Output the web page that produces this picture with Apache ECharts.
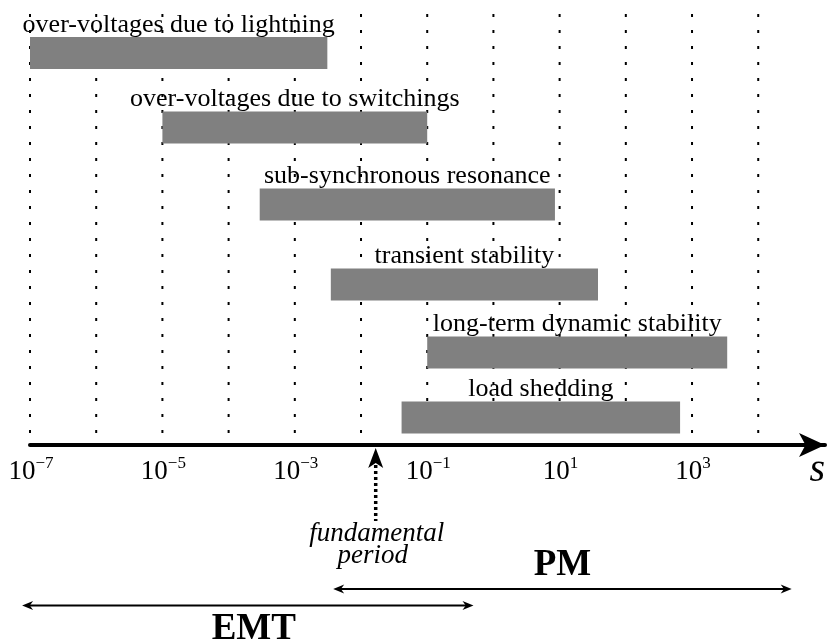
<!DOCTYPE html>
<html>
<head>
<meta charset="utf-8">
<script src="https://cdn.jsdelivr.net/npm/echarts@6/dist/echarts.min.js"></script>
<style>
html,body{margin:0;padding:0;background:#fff;}
#chart{width:828px;height:644px;}
</style>
</head>
<body>
<div id="chart"></div>
<script>
// ---- data ----
const categories = [
  'over-voltages due to lightning',
  'over-voltages due to switchings',
  'sub-synchronous resonance',
  'transient stability',
  'long-term dynamic stability',
  'load shedding'
];
const startSec = [1e-7, 1e-5, 2.95e-4, 3.5e-3, 0.1, 0.041];
const endSec   = [3.1e-3, 0.1, 8.5, 38, 3400, 660];
const rowLevel = [0.96, 2.45, 3.99, 5.59, 6.95, 8.25];

const decades = [1e-7, 1e-6, 1e-5, 1e-4, 1e-3, 1e-2, 1e-1, 1, 10, 100, 1000, 10000];
const tickExponents = [-7, -5, -3, -1, 1, 3];
const xMin = 1e-7;
const xMax = 1.02e5;

const fundamentalPeriod = [1 / 60];
const fundamentalLabel = ['fundamental', 'period'];

const regionNames = ['EMT', 'PM'];
const regionStart = [7.6e-8, 3.8e-3];
const regionEnd   = [0.5, 3.2e4];

// ---- chart ----
const chart = echarts.init(document.getElementById('chart'), null, {renderer: 'canvas'});
const SERIF = '"Liberation Serif", "Times New Roman", serif';

const barData = categories.map((c, i) => [startSec[i], endSec[i], rowLevel[i], i]);

function arrowHead(tipX, tipY, dir, len, half) {
  return {
    type: 'polygon',
    shape: {points: [[tipX, tipY], [tipX - dir * len, tipY - half], [tipX - dir * len * 0.7, tipY], [tipX - dir * len, tipY + half]]},
    style: {fill: '#000'}
  };
}

const option = {
  animation: false,
  backgroundColor: '#fff',
  grid: {left: 30, right: 0, top: 5, bottom: 199, containLabel: false},
  xAxis: {
    type: 'log',
    logBase: 10,
    position: 'bottom',
    min: xMin,
    max: xMax,
    axisLine: {show: true, onZero: false, symbol: ['none', 'arrow'], symbolSize: [18, 26],
      lineStyle: {color: '#000', width: 4}},
    axisTick: {show: false},
    splitLine: {show: false},
    minorTick: {show: false},
    axisLabel: {show: false},
    name: 's',
    nameLocation: 'end',
    nameGap: 0,
    nameTextStyle: {fontFamily: SERIF, fontStyle: 'italic', fontSize: 40, color: '#000',
      align: 'right', verticalAlign: 'top', padding: [5, 0, 0, 0]}
  },
  yAxis: {type: 'value', inverse: true, min: 0, max: 8.8, show: false},
  series: [
    {
      // decade grid lines
      type: 'custom',
      z: 1,
      data: decades.map(d => [d]),
      encode: {x: 0},
      renderItem: function (params, api) {
        const cs = params.coordSys;
        const p = api.coord([api.value(0), 0]);
        return {
          type: 'line',
          shape: {x1: p[0], y1: cs.y + 9, x2: p[0], y2: cs.y + cs.height - 2},
          style: {stroke: '#000', lineWidth: 2, lineDash: [3, 13]}
        };
      }
    },
    {
      // tick labels 10^e
      type: 'custom',
      z: 3,
      clip: false,
      data: tickExponents.map(e => [Math.pow(10, e), e]),
      encode: {x: 0},
      renderItem: function (params, api) {
        const cs = params.coordSys;
        const p = api.coord([api.value(0), 0]);
        const e = api.value(1);
        return {
          type: 'text',
          style: {
            text: '{a|10}{b|' + (e < 0 ? '\u2212' : '') + Math.abs(e) + '}',
            x: p[0] + 1, y: cs.y + cs.height + 10,
            align: 'center', verticalAlign: 'top',
            rich: {
              a: {fontFamily: SERIF, fontSize: 27, fill: '#000', lineHeight: 30, verticalAlign: 'bottom'},
              b: {fontFamily: SERIF, fontSize: 17, fill: '#000', lineHeight: 18, verticalAlign: 'top'}
            }
          }
        };
      }
    },
    {
      type: 'custom',
      z: 2,
      data: barData,
      encode: {x: [0, 1], y: 2},
      renderItem: function (params, api) {
        const a = api.coord([api.value(0), api.value(2)]);
        const b = api.coord([api.value(1), api.value(2)]);
        const h = 32;
        const idx = api.value(3);
        return {
          type: 'group',
          children: [
            {type: 'text', z2: 1, style: {text: categories[idx], x: (a[0] + b[0]) / 2, y: a[1] - h / 2 + 1,
              align: 'center', verticalAlign: 'bottom', font: '26px ' + SERIF, fill: '#000'}},
            {type: 'rect', z2: 3, shape: {x: a[0], y: a[1] - h / 2, width: b[0] - a[0], height: h},
              style: {fill: '#808080'}}
          ]
        };
      }
    },
    {
      type: 'custom',
      z: 3,
      data: fundamentalPeriod.map(v => [v]),
      encode: {x: 0},
      clip: false,
      renderItem: function (params, api) {
        const cs = params.coordSys;
        const p = api.coord([api.value(0), 0]);
        const x = p[0];
        const axisY = cs.y + cs.height;
        return {
          type: 'group',
          children: [
            {type: 'polygon', shape: {points: [[x, axisY + 3], [x + 7.5, axisY + 23], [x, axisY + 18], [x - 7.5, axisY + 23]]},
              style: {fill: '#000'}},
            {type: 'line', shape: {x1: x, y1: axisY + 20, x2: x, y2: axisY + 76},
              style: {stroke: '#000', lineWidth: 3.5, lineDash: [3, 3]}},
            {type: 'text', style: {text: fundamentalLabel[0], x: x + 1, y: axisY + 89, align: 'center', verticalAlign: 'middle',
              font: 'italic 27px ' + SERIF, fill: '#000'}},
            {type: 'text', style: {text: fundamentalLabel[1], x: x - 3, y: axisY + 111, align: 'center', verticalAlign: 'middle',
              font: 'italic 27px ' + SERIF, fill: '#000'}}
          ]
        };
      }
    },
    {
      type: 'custom',
      z: 3,
      data: regionNames.map((n, i) => [regionStart[i], regionEnd[i], i]),
      encode: {x: [0, 1]},
      clip: false,
      renderItem: function (params, api) {
        const cs = params.coordSys;
        const axisY = cs.y + cs.height;
        const idx = api.value(2);
        const y = idx === 0 ? axisY + 160.5 : axisY + 144;
        const x0 = api.coord([api.value(0), 0])[0];
        const x1 = api.coord([api.value(1), 0])[0];
        const ty = idx === 0 ? y + 24 : y - 24;
        return {
          type: 'group',
          children: [
            {type: 'line', shape: {x1: x0 + 4, y1: y, x2: x1 - 4, y2: y}, style: {stroke: '#000', lineWidth: 2}},
            arrowHead(x0, y, -1, 11, 4.5),
            arrowHead(x1, y, 1, 11, 4.5),
            {type: 'text', style: {text: regionNames[idx], x: (x0 + x1) / 2 + (idx === 0 ? 6 : 0), y: ty,
              align: 'center', verticalAlign: 'middle', font: 'bold 37px ' + SERIF, fill: '#000'}}
          ]
        };
      }
    }
  ]
};
chart.setOption(option);
</script>
</body>
</html>
